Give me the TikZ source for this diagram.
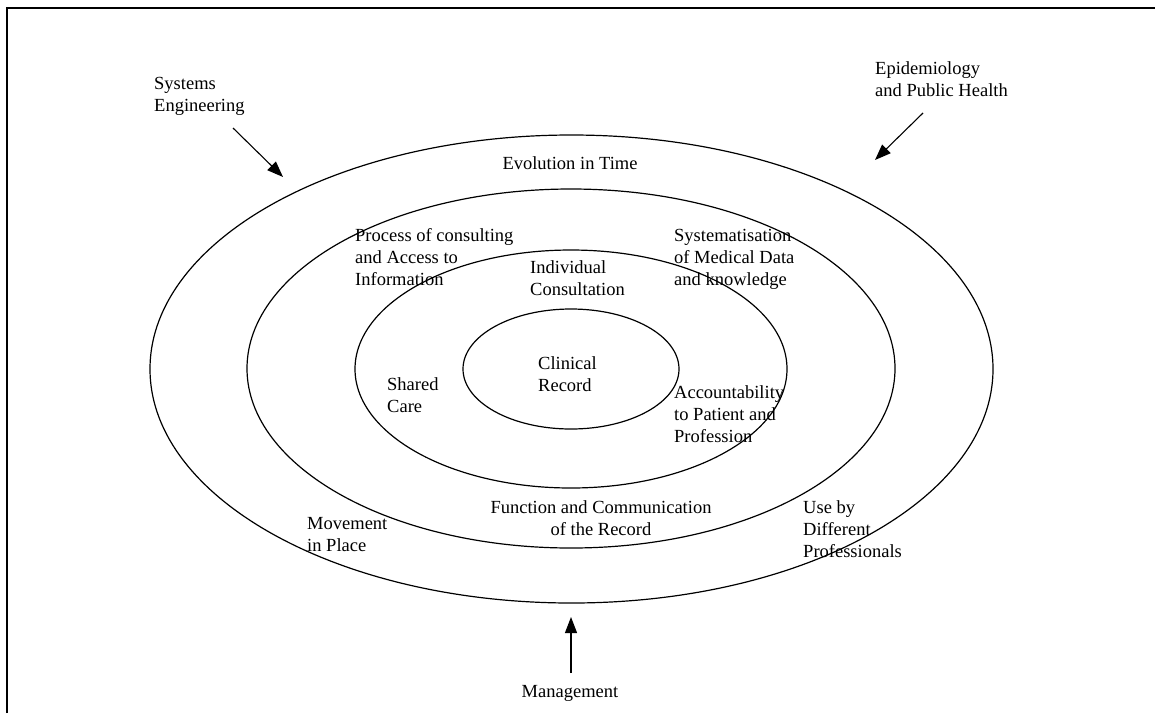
\documentclass[tikz,border=0pt]{standalone}
\usepackage{fontspec}
\setmainfont{Liberation Serif}
\usetikzlibrary{shapes.geometric,arrows.meta}
\begin{document}
\begin{tikzpicture}[x=1pt,y=-1pt,
  ring/.style={draw,ellipse,line width=1.2pt,inner sep=0pt},
  lbl/.style={inner sep=0pt,align=left,anchor=base west,font=\fontsize{18.5}{22}\selectfont},
  clbl/.style={inner sep=0pt,align=center,anchor=base,font=\fontsize{18.5}{22}\selectfont},
  arr/.style={line width=1.1pt,-{Triangle[length=16pt,width=12pt]}},
  frame/.style={line width=2pt}]
\useasboundingbox (0,0) rectangle (1155,713);
\coordinate (tl) at (7,8);
\coordinate (tr) at (1155,8);
\coordinate (bl) at (7,713);
\draw[frame] (bl) -- (tl) -- (tr);
% rings
\node[ring,minimum width=843pt,minimum height=468pt] (outer) at (571.5,369) {};
\node[ring,minimum width=648pt,minimum height=359pt] (second) at (571,368.5) {};
\node[ring,minimum width=432pt,minimum height=238pt] (third) at (571,369) {};
\node[ring,minimum width=216pt,minimum height=120pt] (inner) at (571,369) {};
% labels (anchor = baseline of last line)
\node[lbl] (syseng) at (154,111) {Systems\\Engineering};
\node[lbl] (epi) at (875,96) {Epidemiology\\and Public Health};
\node[clbl] (evo) at (570,169) {Evolution in Time};
\node[lbl] (proc) at (355,285) {Process of consulting\\and Access to\\Information};
\node[lbl] (indiv) at (530,295) {Individual\\Consultation};
\node[lbl] (syst) at (674,285) {Systematisation\\of Medical Data\\and knowledge};
\node[lbl] (clin) at (538,391) {Clinical\\Record};
\node[lbl] (shared) at (387,412) {Shared\\Care};
\node[lbl] (acct) at (674,442) {Accountability\\to Patient and\\Profession};
\node[clbl] (func) at (601,535) {Function and Communication\\of the Record};
\node[lbl] (move) at (307,551) {Movement\\in Place};
\node[lbl] (use) at (803,557) {Use by\\Different\\Professionals};
\node[clbl] (mgmt) at (570,697) {Management};
% arrows
\coordinate (a1s) at (233,128);
\coordinate (a1e) at (283,177);
\coordinate (a2s) at (923,113);
\coordinate (a2e) at (875,160);
\coordinate (a3s) at (571,673);
\coordinate (a3e) at (571,617);
\draw[arr] (a1s) -- (a1e);
\draw[arr] (a2s) -- (a2e);
\draw[arr] (a3s) -- (a3e);
\end{tikzpicture}
\end{document}
